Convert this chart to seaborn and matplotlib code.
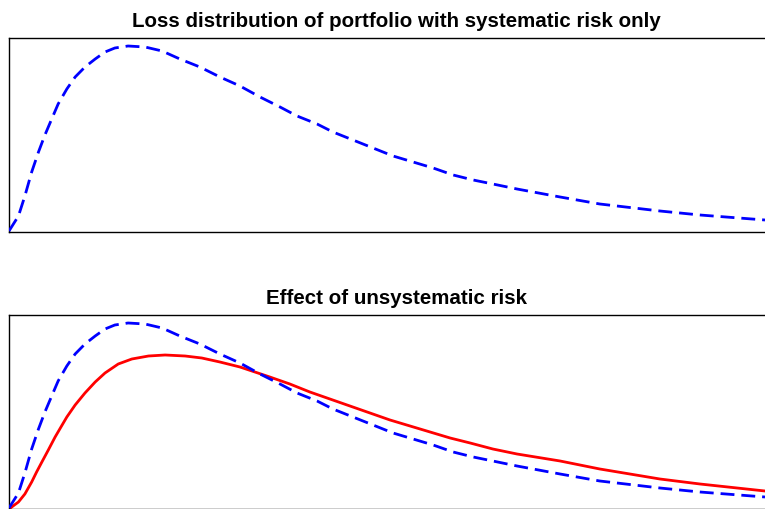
import matplotlib
matplotlib.use("Agg")
import matplotlib.pyplot as plt
import seaborn as sns

# loss (% of portfolio) and density heights (arbitrary units)
loss_sys = [0.0, 0.25, 0.42, 0.60, 0.78, 0.95, 1.13, 1.30, 1.53, 1.75, 2.01, 2.28,
            2.54, 2.80, 3.15, 3.60, 4.05, 4.52, 5.05, 5.58, 6.11, 6.64, 7.17, 7.62,
            8.15, 8.57, 9.10, 9.63, 10.16, 10.69, 11.22, 11.75, 12.28, 12.80, 13.44,
            14.58, 15.63, 17.22, 18.28, 20.0]
dens_sys = [1, 16, 36, 60, 80, 97, 113, 128, 143, 155, 165, 173,
            180, 184, 186, 185, 181, 173, 165, 155, 146, 135, 125, 116,
            108, 100, 92, 84, 76, 70, 64, 57, 52, 48, 43,
            35, 28, 21, 17, 12]

loss_full = [0.0, 0.25, 0.42, 0.60, 0.73, 0.87, 1.04, 1.22, 1.39, 1.53, 1.75, 2.01,
             2.28, 2.54, 2.89, 3.25, 3.69, 4.13, 4.66, 5.10, 5.58, 6.11, 6.90, 7.43,
             7.96, 8.49, 9.02, 9.55, 10.08, 10.61, 11.14, 11.67, 12.20, 12.80, 13.44,
             14.58, 15.63, 17.22, 18.28, 20.0]
dens_full = [0, 7, 15, 27, 37, 47, 59, 72, 83, 92, 104, 116,
             127, 136, 145, 150, 153, 154, 153, 151, 147, 142, 132, 125,
             117, 110, 103, 96, 89, 83, 77, 71, 66, 60, 55,
             48, 40, 30, 25, 18]

titles = ["Loss distribution of portfolio with systematic risk only",
          "Effect of unsystematic risk"]

sns.set_style("white")
plt.rcParams["font.family"] = ["Liberation Sans", "DejaVu Sans"]

fig = plt.figure(figsize=(7.65, 5.1), dpi=100)
ax1 = fig.add_axes([9 / 765, 1 - 233 / 510, 1.0, 194 / 510])
ax2 = fig.add_axes([9 / 765, 0.0, 1.0, 194 / 510])

for ax in (ax1, ax2):
    sns.lineplot(x=loss_sys, y=dens_sys, ax=ax, color="#0000ff", lw=2.0, zorder=3)
    ax.lines[0].set_dashes((5, 2.5))

sns.lineplot(x=loss_full, y=dens_full, ax=ax2, color="#ff0000", lw=2.0, zorder=2)

for ax, t in zip((ax1, ax2), titles):
    ax.set_xlim(0, 765 * 20 / 756)
    ax.set_ylim(0, 194)
    ax.set_xticks([])
    ax.set_yticks([])
    ax.set_xlabel("")
    ax.set_ylabel("")
    for s in ax.spines.values():
        s.set_color("black")
        s.set_linewidth(1.0)
    ax.set_title(t, fontsize=14.8, fontweight="bold", color="black", pad=8.4, x=0.507)

fig.savefig("out.png", dpi=100)
